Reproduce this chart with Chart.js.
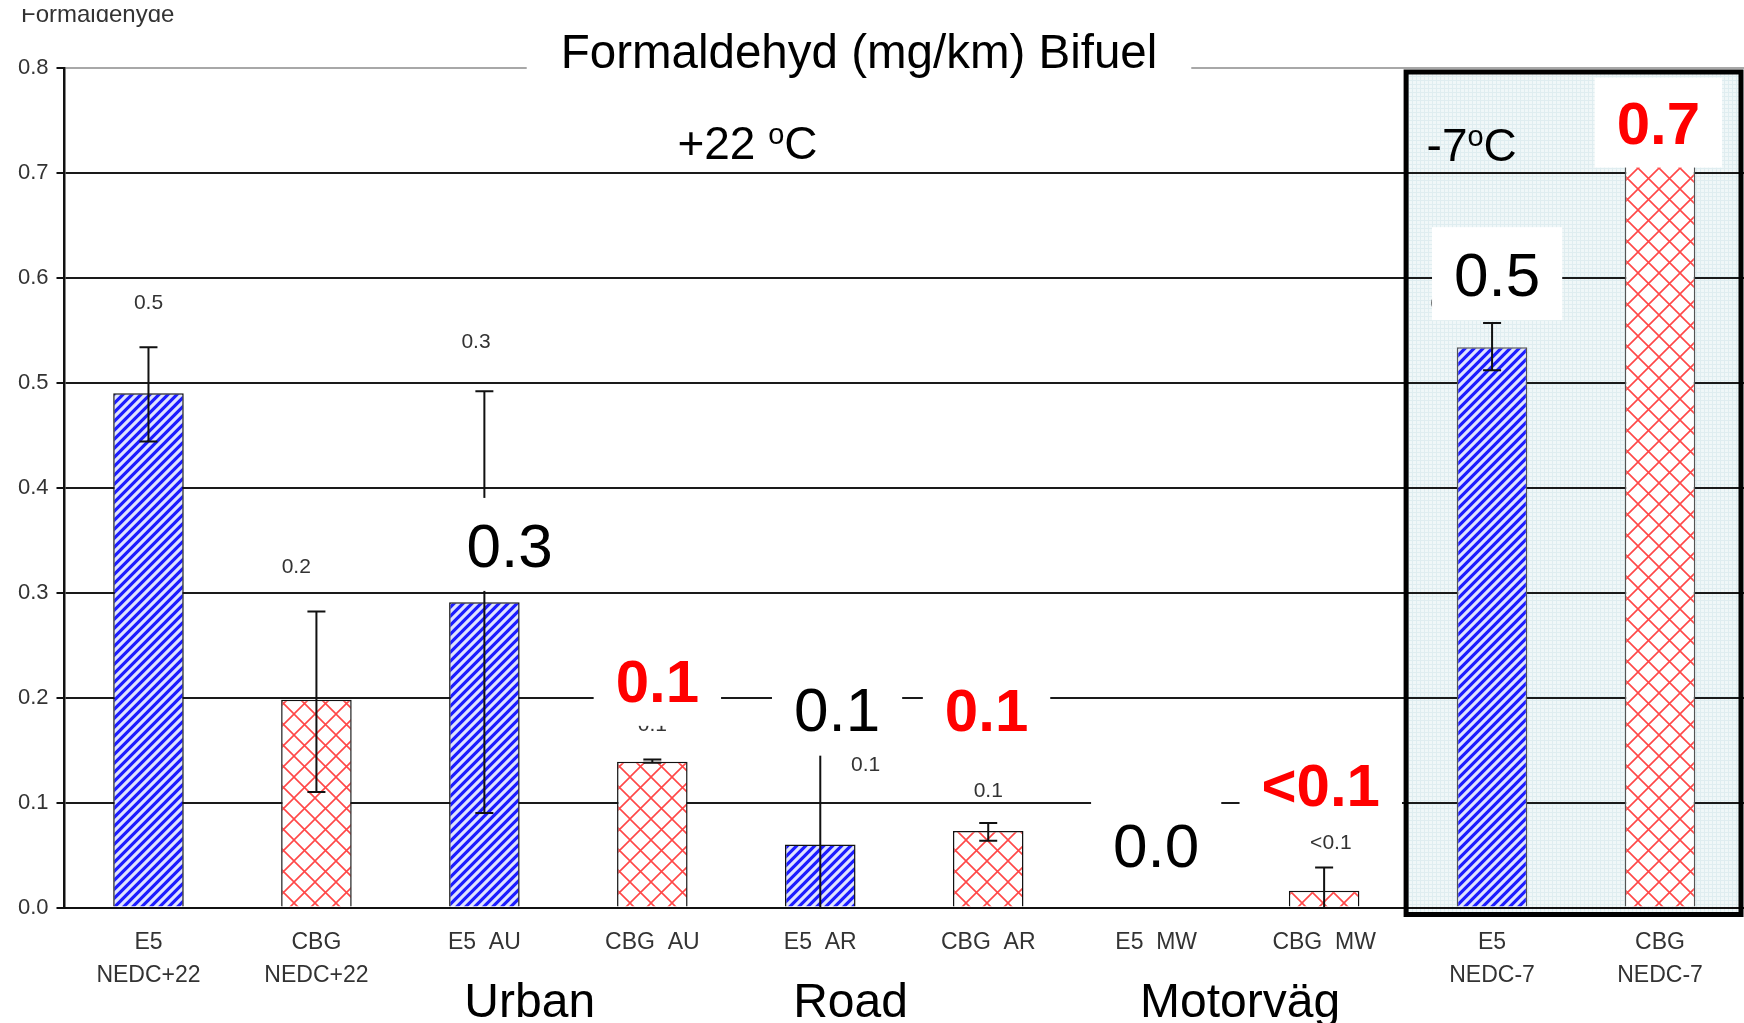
<!DOCTYPE html>
<html>
<head>
<meta charset="utf-8">
<script src="https://cdn.jsdelivr.net/npm/chart.js@4.4.1/dist/chart.umd.min.js"></script>
<style>
  html, body { margin: 0; padding: 0; background: #fff; }
  #wrap { width: 1744px; height: 1023px; }
</style>
</head>
<body>
<div id="wrap"><canvas id="formChart" width="1744" height="1023"></canvas></div>
<script>
// Chart data
const categories = [
  ['E5', 'NEDC+22'], ['CBG', 'NEDC+22'], ['E5  AU'], ['CBG  AU'], ['E5  AR'],
  ['CBG  AR'], ['E5  MW'], ['CBG  MW'], ['E5', 'NEDC-7'], ['CBG', 'NEDC-7']
];
const fuels = ['E5', 'CBG', 'E5', 'CBG', 'E5', 'CBG', 'E5', 'CBG', 'E5', 'CBG'];
const meanValues = [0.49, 0.198, 0.291, 0.139, 0.060, 0.073, 0, 0.016, 0.534, 0.73];
const errLow = [0.444, 0.11, 0.09, 0.138, 0, 0.0635, null, 0, 0.512, null];
const errHigh = [0.534, 0.282, 0.492, 0.141, 0.15, 0.0805, null, 0.038, 0.557, null];
const yTicks = [0, 0.1, 0.2, 0.3, 0.4, 0.5, 0.6, 0.7, 0.8];
const smallLabels = ['0.5', '0.2', '0.3', '0.1', '0.1', '0.1', '', '<0.1', '0.5', ''];
const bigLabels = ['', '', '0.3', '0.1', '0.1', '0.1', '0.0', '<0.1', '0.5', '0.7'];
const groupNames = ['Urban', 'Road', 'Motorväg'];

// where the annotations sit, in [category, value] units
const smallAnchors = [[0, 0.576], [0.88, 0.324], [1.95, 0.539], [3.0, 0.174], [4.27, 0.136],
  [5.0, 0.111], null, [7.04, 0.061], [7.72, 0.575], null];
const bigAnchors = [null, null, [2.15, 0.346], [3.03, 0.216], [4.10, 0.189], [4.99, 0.189],
  [6.0, 0.06], [6.98, 0.117], [8.03, 0.604], [8.99, 0.748]];
const groupAnchors = [2.27, 4.18, 6.5];

const FONT = '"Liberation Sans", Arial, sans-serif';

// fill patterns
function makePattern(size, draw) {
  const c = document.createElement('canvas');
  c.width = size; c.height = size;
  draw(c.getContext('2d'), size);
  return c.getContext('2d').createPattern(c, 'repeat');
}
const bluePattern = makePattern(9, (g, s) => {
  g.fillStyle = '#1c1cff'; g.fillRect(0, 0, s, s);
  g.strokeStyle = '#dfe3ff'; g.lineWidth = 3.2;
  g.beginPath();
  g.moveTo(-2, s + 2); g.lineTo(s + 2, -2);
  g.moveTo(-3, 3); g.lineTo(3, -3);
  g.moveTo(s - 3, s + 3); g.lineTo(s + 3, s - 3);
  g.stroke();
});
const redPattern = makePattern(21, (g, s) => {
  g.fillStyle = '#ffffff'; g.fillRect(0, 0, s, s);
  g.strokeStyle = '#ff4848'; g.lineWidth = 1.6;
  g.beginPath();
  g.moveTo(0, 0); g.lineTo(s, s);
  g.moveTo(s, 0); g.lineTo(0, s);
  g.stroke();
});
const boxPattern = makePattern(4, (g, s) => {
  g.fillStyle = '#f0f7f8'; g.fillRect(0, 0, s, s);
  g.fillStyle = '#dfedf0'; g.fillRect(0, 0, s, 1); g.fillRect(0, 0, 1, s);
});

// -7 C box behind the last two bars
function boxRect(chart) {
  const { chartArea, scales: { x, y } } = chart;
  const left = x.getPixelForValue(7.5) - 2;
  const top = y.getPixelForValue(0.8) + 4;
  return [left, top, chartArea.right - 3 - left, y.getPixelForValue(0) + 7 - top];
}
const coldBox = {
  id: 'coldBox',
  beforeDraw(chart) {
    const ctx = chart.ctx;
    ctx.save();
    ctx.fillStyle = boxPattern;
    ctx.fillRect(...boxRect(chart));
    ctx.restore();
  },
  afterDatasetsDraw(chart) {
    const ctx = chart.ctx;
    ctx.save();
    ctx.strokeStyle = '#000'; ctx.lineWidth = 5;
    ctx.strokeRect(...boxRect(chart));
    ctx.restore();
  }
};

const errorBars = {
  id: 'errorBars',
  afterDatasetsDraw(chart) {
    const { ctx, scales: { x, y } } = chart;
    ctx.save();
    ctx.strokeStyle = '#111'; ctx.lineWidth = 2;
    meanValues.forEach((v, i) => {
      if (errLow[i] == null) return;
      const px = x.getPixelForValue(i);
      const yl = y.getPixelForValue(errLow[i]);
      const yh = y.getPixelForValue(errHigh[i]);
      ctx.beginPath();
      ctx.moveTo(px, yl); ctx.lineTo(px, yh);
      ctx.moveTo(px - 9, yh); ctx.lineTo(px + 9, yh);
      if (errLow[i] > 0) { ctx.moveTo(px - 9, yl); ctx.lineTo(px + 9, yl); }
      ctx.stroke();
    });
    ctx.restore();
  }
};

function boxedText(ctx, text, cx, cy, size, bold, color, padX, hFactor) {
  ctx.font = (bold ? 'bold ' : '') + size + 'px ' + FONT;
  const w = ctx.measureText(text).width;
  ctx.fillStyle = '#fff';
  ctx.fillRect(cx - w / 2 - padX, cy - size * hFactor / 2, w + 2 * padX, size * hFactor);
  ctx.fillStyle = color;
  ctx.textAlign = 'center'; ctx.textBaseline = 'alphabetic';
  ctx.fillText(text, cx, cy + size * 0.36);
}

// text with a raised small "o" for degrees
function degreeText(ctx, pre, post, x0, cy, size) {
  ctx.textAlign = 'left'; ctx.textBaseline = 'alphabetic'; ctx.fillStyle = '#000';
  const base = cy + size * 0.36;
  ctx.font = size + 'px ' + FONT;
  ctx.fillText(pre, x0, base);
  let xx = x0 + ctx.measureText(pre).width;
  ctx.font = Math.round(size * 0.62) + 'px ' + FONT;
  ctx.fillText('o', xx, base - size * 0.33);
  xx += ctx.measureText('o').width;
  ctx.font = size + 'px ' + FONT;
  ctx.fillText(post, xx, base);
}

const annotations = {
  id: 'annotations',
  afterDraw(chart) {
    const { ctx, chartArea, scales: { x, y } } = chart;
    ctx.save();
    // small grey value labels
    ctx.font = '21px ' + FONT; ctx.fillStyle = '#333';
    ctx.textAlign = 'center'; ctx.textBaseline = 'middle';
    smallLabels.forEach((t, i) => {
      if (!t || !smallAnchors[i]) return;
      ctx.fillText(t, x.getPixelForValue(smallAnchors[i][0]), y.getPixelForValue(smallAnchors[i][1]));
    });
    // big boxed labels
    bigLabels.forEach((t, i) => {
      if (!t || !bigAnchors[i]) return;
      const cbg = fuels[i] === 'CBG';
      boxedText(ctx, t, x.getPixelForValue(bigAnchors[i][0]), y.getPixelForValue(bigAnchors[i][1]),
        cbg ? 60 : 62, cbg, cbg ? '#ff0000' : '#000', 22, 1.5);
    });
    // temperature headings
    degreeText(ctx, '+22 ', 'C', x.getPixelForValue(3.59) - 74, y.getPixelForValue(0.729), 46);
    degreeText(ctx, '-7', 'C', x.getPixelForValue(7.61), y.getPixelForValue(0.727), 46);
    // title
    boxedText(ctx, 'Formaldehyd (mg/km) Bifuel', 859, 51, 47.5, false, '#000', 34, 2.2);
    // cut-off axis title in the top left corner
    ctx.font = '24px ' + FONT; ctx.fillStyle = '#333';
    ctx.textAlign = 'left'; ctx.textBaseline = 'alphabetic';
    ctx.fillText('Formaldehyde', 21, 22);
    ctx.fillStyle = '#fff'; ctx.fillRect(0, 0, 300, 9);
    // group names under the axis
    ctx.font = '48px ' + FONT; ctx.fillStyle = '#000';
    ctx.textAlign = 'center'; ctx.textBaseline = 'alphabetic';
    groupNames.forEach((g, i) => {
      ctx.fillText(g, x.getPixelForValue(groupAnchors[i]), chartArea.bottom + 109);
    });
    ctx.restore();
  }
};

new Chart(document.getElementById('formChart'), {
  type: 'bar',
  data: {
    labels: categories,
    datasets: [{
      data: meanValues,
      backgroundColor: fuels.map(f => f === 'E5' ? bluePattern : redPattern),
      borderColor: meanValues.map((v, i) => i >= 8 ? '#555' : '#111'),
      borderWidth: 1.5,
      barPercentage: 0.42,
      categoryPercentage: 1
    }]
  },
  options: {
    responsive: false,
    animation: false,
    layout: { padding: { top: 68, left: 0, right: -7, bottom: 0 } },
    plugins: { legend: { display: false }, tooltip: { enabled: false } },
    scales: {
      x: {
        grid: { display: false, drawTicks: false },
        border: { display: true, color: '#111', width: 2 },
        ticks: {
          padding: 18,
          color: '#333',
          maxRotation: 0,
          autoSkip: false,
          font: { family: FONT, size: 23, lineHeight: 1.45 }
        },
        afterFit: s => { s.height = 115.5; }
      },
      y: {
        min: 0,
        max: 0.8,
        afterBuildTicks: s => { s.ticks = yTicks.map(v => ({ value: v })); },
        grid: {
          color: c => (c.tick && c.tick.value === 0.8) ? '#a8a8a8' : '#1a1a1a',
          lineWidth: 2,
          tickLength: 8,
          tickColor: '#111'
        },
        border: { display: true, color: '#111', width: 2.5 },
        ticks: {
          padding: 8,
          color: '#333',
          font: { family: FONT, size: 22 },
          callback: v => v.toFixed(1)
        },
        afterFit: s => { s.width = 64.5; }
      }
    }
  },
  plugins: [coldBox, errorBars, annotations]
});
</script>
</body>
</html>
